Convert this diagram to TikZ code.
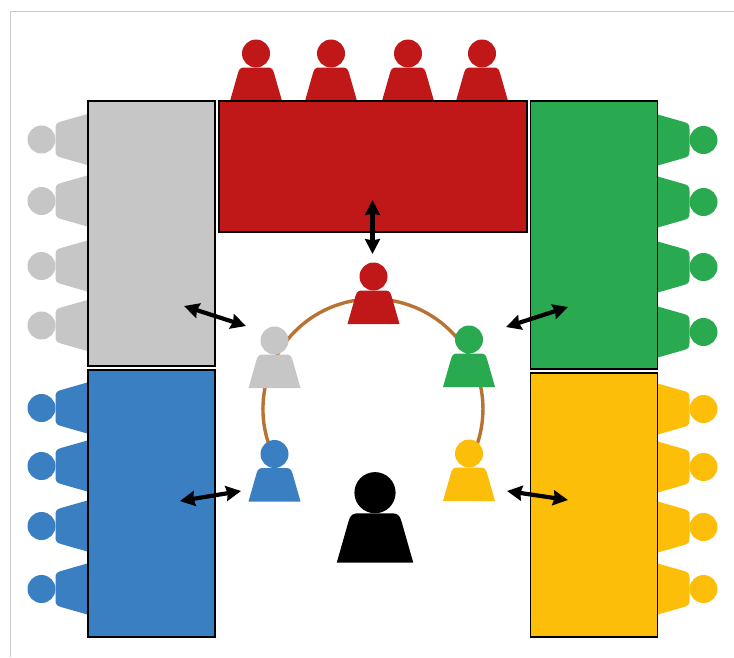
\documentclass[tikz,border=0pt]{standalone}
\usetikzlibrary{arrows.meta}
\definecolor{cred}{HTML}{C01818}
\definecolor{cgray}{HTML}{C6C6C6}
\definecolor{cgreen}{HTML}{2AAA50}
\definecolor{cblue}{HTML}{3A7FC1}
\definecolor{cyellow}{HTML}{FDBE0A}
\definecolor{cring}{HTML}{B87333}
\definecolor{cframe}{HTML}{C9CACF}
\tikzset{
  tablebox/.style={draw=black,line width=1.4pt},
  twoway/.style={{Triangle[length=15pt,width=15pt,inset=1.5pt]}-{Triangle[length=15pt,width=15pt,inset=1.5pt]},line width=4.2pt,black},
  ring/.style={cring,line width=3.4pt},
  person/.pic={
    \fill[pic actions] (0,-47.5) circle (14);
    \fill[pic actions] (-26,0) -- (-18,-28) .. controls (-16.8,-32.5) and (-15,-33.5) .. (-11,-33.5)
      -- (11,-33.5) .. controls (15,-33.5) and (16.8,-32.5) .. (18,-28) -- (26,0) -- cycle;
  }
}
\begin{document}
\begin{tikzpicture}[x=1pt,y=-1pt]
\useasboundingbox (0,0) rectangle (734,657);
\draw[cframe,line width=1.5pt] (10.5,657) -- (10.5,11.5) -- (734,11.5);
% ring
\coordinate (ringstart) at (269.6,446.6);
\draw[ring] (ringstart) arc[start angle=200,end angle=-20,x radius=110pt,y radius=110pt];
% seated people
\foreach \x in {256,331,408,482} \pic[fill=cred] at (\x,101) {person};
\foreach \y in {139.5,201,266,325.5} \pic[fill=cgray,rotate=90] at (89,\y) {person};
\foreach \y in {408,466,526,589} \pic[fill=cblue,rotate=90] at (89,\y) {person};
\foreach \y in {140,202,267,332} \pic[fill=cgreen,rotate=-90] at (656,\y) {person};
\foreach \y in {409,467,527,589} \pic[fill=cyellow,rotate=-90] at (656,\y) {person};
% tables
\node[tablebox,fill=cgray,minimum width=127pt,minimum height=265pt,inner sep=0pt] (graytable) at (151.5,233.5) {};
\node[tablebox,fill=cred,minimum width=308pt,minimum height=131pt,inner sep=0pt] (redtable) at (373,166.5) {};
\node[tablebox,fill=cgreen,minimum width=127.5pt,minimum height=268pt,inner sep=0pt] (greentable) at (594,235) {};
\node[tablebox,fill=cblue,minimum width=127pt,minimum height=267pt,inner sep=0pt] (bluetable) at (151.5,503.5) {};
\node[tablebox,fill=cyellow,minimum width=127.5pt,minimum height=264pt,inner sep=0pt] (yellowtable) at (594,505) {};
% circle of people
\pic[fill=cred] at (373.5,324) {person};
\pic[fill=cgray] at (274.5,388) {person};
\pic[fill=cgreen] at (469,387) {person};
\pic[fill=cblue] at (274.5,501.5) {person};
\pic[fill=cyellow] at (469,501) {person};
\pic[fill=black,scale=1.47] at (375,562.5) {person};
% arrows
\coordinate (g1) at (184,306); \coordinate (g2) at (246,326);
\coordinate (r1) at (372.5,200); \coordinate (r2) at (372.5,254);
\coordinate (n1) at (506,327); \coordinate (n2) at (568,307);
\coordinate (b1) at (180,501); \coordinate (b2) at (241,491);
\coordinate (y1) at (507,491); \coordinate (y2) at (568,500);
\draw[twoway] (g1) -- (g2);
\draw[twoway] (r1) -- (r2);
\draw[twoway] (n1) -- (n2);
\draw[twoway] (b1) -- (b2);
\draw[twoway] (y1) -- (y2);
\end{tikzpicture}
\end{document}
